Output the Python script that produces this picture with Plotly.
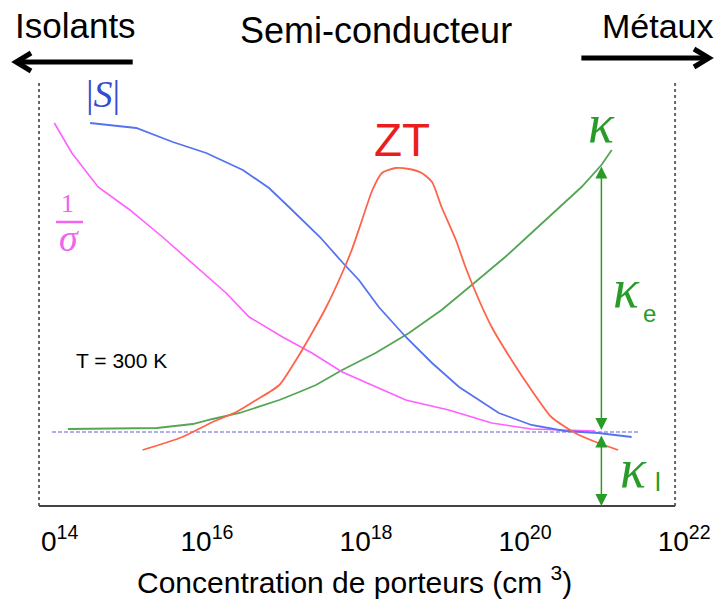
import plotly.graph_objects as go

# x: log10 of carrier concentration (cm^-3), y: relative magnitude (arb. units)
s_logn = [14.53, 15.11, 15.57, 15.99, 16.45, 16.78, 17.03, 17.24, 17.42, 17.71,
          17.91, 18.16, 18.50, 18.83, 19.17, 19.67, 20.08, 20.50, 20.92, 21.34]
s_vals = [383, 378, 364, 353, 336, 318, 299, 283, 269, 243,
          226, 199, 169, 143, 119, 93, 81, 75, 73, 69]

rho_logn = [14.08, 14.30, 14.63, 15.03, 15.44, 15.91, 16.24, 16.53, 16.95, 17.32,
            17.70, 18.50, 19.04, 19.58, 20.08, 20.88]
rho_vals = [383, 353, 319, 296, 269, 236, 213, 189, 169, 153,
            134, 106, 96, 83, 77, 75]

zt_logn = [15.19, 15.69, 16.07, 16.37, 16.62, 16.91, 17.12, 17.32, 17.50, 17.70,
           17.82, 17.95, 18.08, 18.20, 18.37, 18.54, 18.70, 18.83, 18.95, 19.13,
           19.25, 19.42, 19.58, 19.83, 20.08, 20.33, 20.63, 20.92, 21.17]
zt_vals = [56, 69, 84, 94, 106, 121, 146, 173, 199, 233,
           256, 286, 316, 333, 338, 337, 333, 324, 299, 266,
           239, 206, 179, 146, 116, 89, 73, 63, 56]

k_logn = [14.25, 15.37, 15.82, 16.07, 16.41, 16.91, 17.16, 17.37, 17.70, 18.12,
          18.54, 18.95, 19.33, 19.75, 20.08, 20.46, 20.71, 20.96, 21.09]
k_vals = [77, 78, 82, 87, 93, 106, 114, 121, 136, 153,
          173, 196, 221, 249, 273, 301, 319, 341, 356]

# lattice conductivity level and the kappa split arrow
kl_level = 74
kl_span = [14.05, 21.43]
kappa_x = 20.96
kappa_top = 341

tick_vals = [14, 16, 18, 20, 22]
tick_text = ["\u00a0\u00a0\u00a00<sup>14</sup>", "10<sup>16</sup>", "10<sup>18</sup>",
             "10<sup>20</sup>", "10<sup>22</sup>"]

SANS = "Liberation Sans, Arial, sans-serif"
SERIF = "Liberation Serif, Times New Roman, serif"
GREEN = "rgb(40,155,40)"

# page geometry (pixels) for decorations outside the plot area
W, H = 723, 600
L, R, T, B = 39, 21, 80, 94


def fx(px):
    return (px - L) / (W - L - R)


def fy(py):
    return (H - B - py) / (H - T - B)


def label(x, y, text, family, size, color, ref=None):
    d = dict(x=x, y=y, text=text, showarrow=False, xanchor='center', yanchor='middle',
             font=dict(family=family, size=size, color=color))
    if ref == 'paper':
        d.update(xref='paper', yref='paper')
    return d


fig = go.Figure()

fig.add_trace(go.Scatter(x=kl_span, y=[kl_level, kl_level], mode='lines',
                         line=dict(color='rgba(110,110,215,0.55)', width=2, dash='4px,2px')))
fig.add_trace(go.Scatter(x=k_logn, y=k_vals, mode='lines',
                         line=dict(color='rgb(85,165,85)', width=1.8)))
fig.add_trace(go.Scatter(x=rho_logn, y=rho_vals, mode='lines',
                         line=dict(color='rgb(255,95,255)', width=1.6)))
fig.add_trace(go.Scatter(x=s_logn, y=s_vals, mode='lines',
                         line=dict(color='rgb(85,115,240)', width=1.8)))
fig.add_trace(go.Scatter(x=zt_logn, y=zt_vals, mode='lines', line_shape='spline',
                         line=dict(color='rgb(255,100,75)', width=1.8, smoothing=0.6)))

shapes = [
    # frame
    dict(type='line', xref='paper', yref='paper', x0=fx(39), x1=fx(39), y0=fy(506), y1=fy(83),
         line=dict(color='#666', width=2, dash='dot')),
    dict(type='line', xref='paper', yref='paper', x0=fx(677), x1=fx(677), y0=fy(506), y1=fy(80),
         line=dict(color='#666', width=2, dash='dot')),
    dict(type='line', xref='paper', yref='paper', x0=fx(39), x1=fx(677), y0=fy(506), y1=fy(506),
         line=dict(color='#444', width=2)),
    # top arrows
    dict(type='path', xref='paper', yref='paper',
         path=f"M{fx(133)},{fy(62)} L{fx(17)},{fy(62)}",
         line=dict(color='black', width=5)),
    dict(type='path', xref='paper', yref='paper',
         path=f"M{fx(31)},{fy(53)} L{fx(16)},{fy(62)} L{fx(31)},{fy(71)}",
         line=dict(color='black', width=5)),
    dict(type='path', xref='paper', yref='paper',
         path=f"M{fx(583)},{fy(58)} L{fx(709)},{fy(58)}",
         line=dict(color='black', width=5)),
    dict(type='path', xref='paper', yref='paper',
         path=f"M{fx(696)},{fy(49)} L{fx(711)},{fy(58)} L{fx(696)},{fy(67)}",
         line=dict(color='black', width=5)),
    # fraction bar of 1/sigma
    dict(type='line', x0=14.10, x1=14.44, y0=284, y1=284,
         line=dict(color='rgb(240,100,240)', width=2.5)),
]

annotations = [
    label(fx(76), fy(25), "Isolants", SANS, 35, 'black', 'paper'),
    label(fx(377), fy(30), "Semi-conducteur", SANS, 36, 'black', 'paper'),
    label(fx(660), fy(26), "Métaux", SANS, 34, 'black', 'paper'),
    label(fx(355), fy(580), "Concentration de porteurs (cm <sup>3</sup>)", SANS, 30, 'black', 'paper'),
    # curve labels
    label(14.69, 412, "|<i>S</i>|", SERIF, 38, 'rgb(55,75,210)'),
    label(14.25, 303, "1", SERIF, 26, 'rgb(240,100,240)'),
    label(14.26, 268, "<i>σ</i>", SERIF, 38, 'rgb(240,100,240)'),
    label(18.45, 366, "ZT", SANS, 46, 'rgb(235,30,30)'),
    label(20.96, 382, "<i>κ</i>", SERIF, 54, GREEN),
    label(21.28, 217, "<i>κ</i>", SERIF, 54, GREEN),
    label(21.56, 193, "e", SANS, 24, GREEN),
    label(21.36, 37, "<i>κ</i>", SERIF, 54, GREEN),
    label(21.67, 24, "l", SANS, 26, GREEN),
    label(14.93, 146, "T = 300 K", SANS, 21, 'black'),
    # kappa_e and kappa_l double arrows
    dict(x=kappa_x, y=kl_level + 2, ax=kappa_x, ay=kappa_top, axref='x', ayref='y',
         text="", showarrow=True, arrowside='end+start', arrowhead=2, startarrowhead=2,
         arrowsize=1.6, startarrowsize=1.6, arrowwidth=1.5, arrowcolor=GREEN,
         standoff=0, startstandoff=0),
    dict(x=kappa_x, y=0, ax=kappa_x, ay=kl_level - 2, axref='x', ayref='y',
         text="", showarrow=True, arrowside='end+start', arrowhead=2, startarrowhead=2,
         arrowsize=1.6, startarrowsize=1.6, arrowwidth=1.5, arrowcolor=GREEN,
         standoff=0, startstandoff=0),
]

fig.update_layout(
    width=W, height=H,
    margin=dict(l=L, r=R, t=T, b=B),
    plot_bgcolor='white', paper_bgcolor='white',
    showlegend=False,
    shapes=shapes,
    annotations=annotations,
)

fig.update_xaxes(range=[13.887, 22.2], tickvals=tick_vals, ticktext=tick_text,
                 showgrid=False, zeroline=False, showline=False, ticks='',
                 ticklabelstandoff=16,
                 tickfont=dict(family=SANS, size=28, color='black'))
fig.update_yaxes(range=[0, 426], visible=False)

fig.write_html("out.html", config={'displayModeBar': False},
               post_script="document.body.style.margin='0';")
